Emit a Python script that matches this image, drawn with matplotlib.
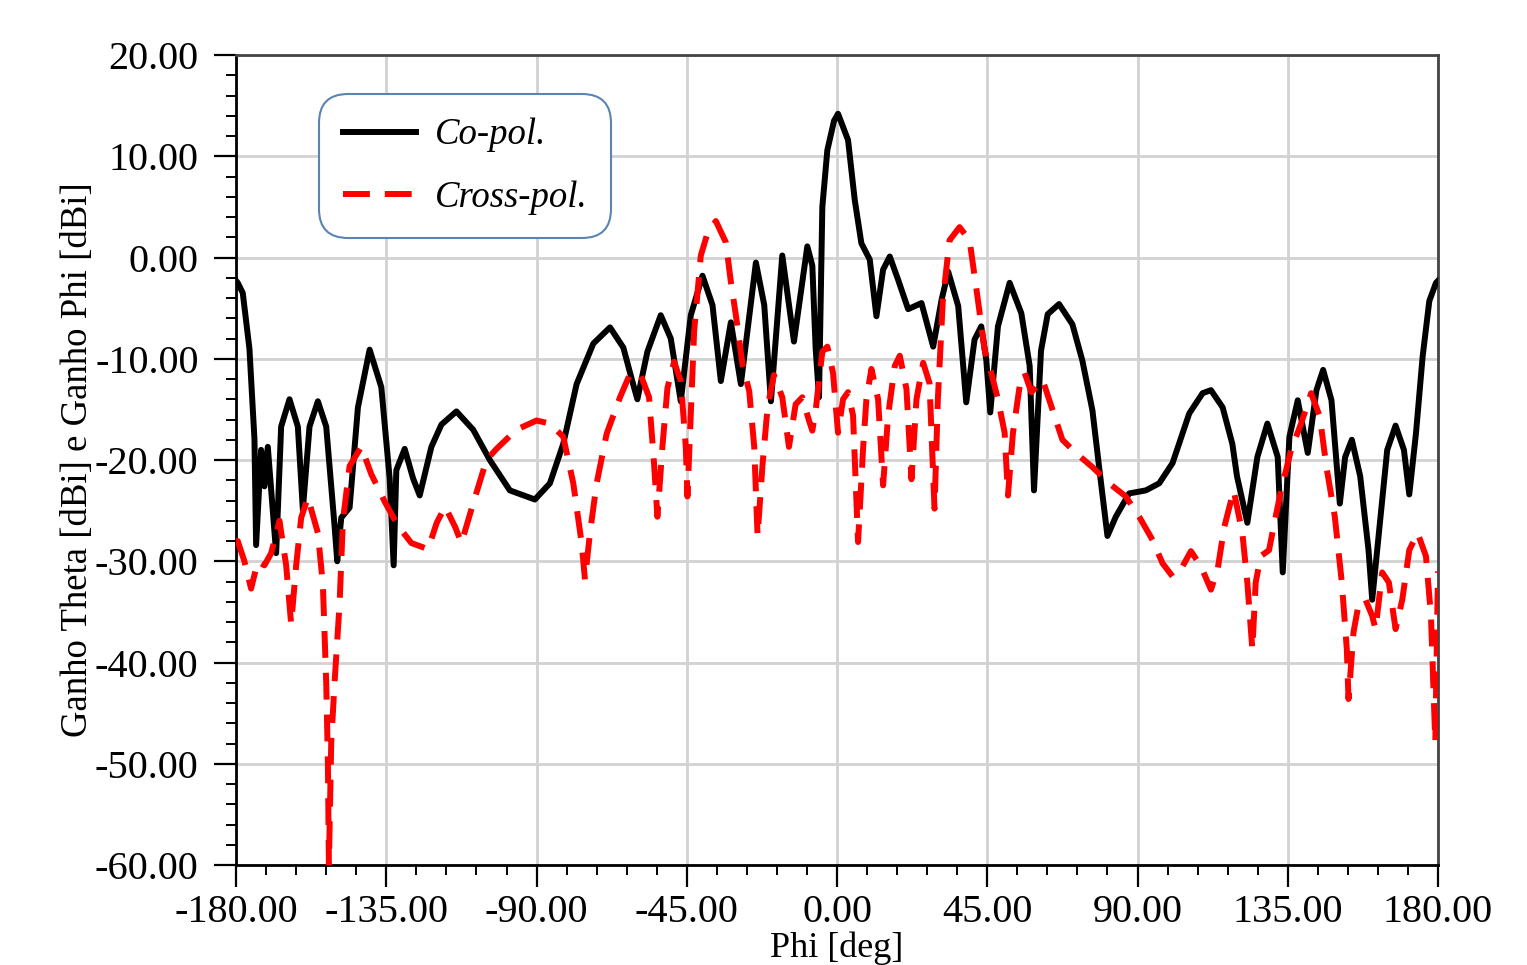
import matplotlib
matplotlib.use('Agg')
import matplotlib.pyplot as plt
from matplotlib.ticker import MultipleLocator, FormatStrFormatter

plt.rcParams['font.family'] = 'Liberation Serif'
plt.rcParams['axes.unicode_minus'] = False

# Co-pol (Ganho Theta)
co_phi = [-180, -179.5, -178, -176, -174.5, -174, -172.5, -171.5, -170.5, -168,
          -166.5, -164, -161.5, -160, -158, -155.5, -153, -150.5, -149.7, -148.5,
          -146, -143.5, -140, -136.5, -134, -132.8, -132, -129.5, -127, -125,
          -121.5, -118.5, -114, -109, -104, -98, -90.5, -86, -82, -78,
          -73, -68, -64, -61.5, -59.8, -56.8, -52.8, -49.8, -46.8, -43.8,
          -40.3, -37.3, -34.8, -31.8, -28.8, -24.3, -21.8, -19.8, -16.4, -12.9,
          -8.9, -7.4, -6.4, -5.4, -4.4, -2.9, -0.9, 0.3, 3.3, 5.3,
          7.3, 9.8, 11.8, 13.8, 15.8, 18.3, 21.3, 25.3, 28.8, 31.3,
          33.3, 36.3, 38.7, 41.2, 43.2, 44.7, 45.9, 48.2, 51.7, 55.2,
          57.7, 59, 61.1, 63.1, 66.5, 70.5, 73.5, 76.5, 78.5, 81,
          83.5, 87.5, 92.5, 96.5, 100.5, 105.5, 109.5, 112, 115.5, 118.4,
          119.8, 122.9, 125.9, 128.9, 132, 133.5, 135.5, 138, 141, 143.6,
          145.6, 148.1, 150.6, 152.2, 154.2, 156.7, 159.2, 160.3, 162.3, 164.8,
          167.3, 169.8, 171.4, 173.4, 175.4, 177.4, 179.4, 180]
co_gain = [-2.3, -2.5, -3.5, -9, -17.9, -28.4, -19, -22.6, -18.7, -29.2,
           -16.7, -14, -16.7, -24.9, -16.7, -14.2, -16.7, -26.5, -30, -25.7,
           -24.7, -14.8, -9.1, -12.8, -21.8, -30.4, -21, -18.9, -21.8, -23.5,
           -18.7, -16.5, -15.2, -17, -20, -23, -23.9, -22.3, -18.4, -12.5,
           -8.5, -6.9, -8.9, -12, -14, -9.3, -5.7, -8, -14.2, -5.7,
           -1.8, -4.7, -12.2, -6.4, -12.5, -0.5, -4.7, -14.2, 0.2, -8.3,
           1.1, -0.8, -9, -13.8, 5.0, 10.6, 13.5, 14.2, 11.6, 5.7,
           1.4, -0.2, -5.8, -1.2, 0.1, -2.2, -5.1, -4.5, -8.8, -4.2,
           -1.4, -4.8, -14.3, -8.1, -6.8, -10.1, -15.3, -6.8, -2.5, -5.5,
           -10.7, -23, -9.2, -5.6, -4.6, -6.6, -10.2, -15.1, -20.7, -27.5,
           -25.6, -23.3, -23, -22.3, -20.3, -15.4, -13.4, -13.1, -14.8, -18.4,
           -21.6, -26.2, -19.7, -16.4, -19.7, -31.1, -17.7, -14.1, -19.3, -13.1,
           -11.1, -14.1, -24.3, -19.7, -18, -21.6, -28.9, -33.8, -27.2, -19,
           -16.6, -19, -23.4, -17.4, -9.8, -4.3, -2.5, -2.3]

# Cross-pol (Ganho Phi)
cx_phi = [-180, -179.5, -177.5, -175.5, -173.5, -171.5, -169.5, -167, -165, -163.5,
          -162, -160.5, -158.5, -155.5, -154, -153, -152.5, -152.2, -151.5, -150.5,
          -149, -148, -146, -142.5, -139.5, -135.5, -131.5, -127.5, -122.5, -119.9,
          -117.4, -114.4, -112.5, -109, -105, -102, -96, -90, -86, -82,
          -79, -76.5, -75.5, -74, -72, -69, -65, -62, -58.8, -56.3,
          -54.8, -53.8, -52.3, -50.8, -48.8, -46.8, -45.3, -44.8, -43.8, -42.8,
          -40.8, -38.8, -36.3, -33.3, -31.8, -30.3, -28.3, -26.3, -24.8, -23.8,
          -22.3, -20.8, -18.9, -16.4, -14.4, -12.4, -10.4, -8.4, -7.4, -6.4,
          -4.4, -2.9, -1.2, 0.3, 1.8, 3.3, 4.8, 6.3, 7.8, 8.8,
          10.3, 12.3, 13.8, 15.3, 17.3, 18.8, 20.8, 22.3, 23.8, 25.8,
          27.7, 29.2, 30.2, 31.7, 33.7, 36.7, 39.7, 42.2, 44.2, 46.2,
          48.2, 50.2, 51.2, 52.7, 54.7, 56.2, 58.2, 61.6, 64.6, 67.5,
          71.5, 76.5, 81.5, 86.5, 90.5, 94.5, 97.5, 100.5, 103.5, 106,
          109, 112, 114, 116, 118.8, 121.4, 122.9, 124.4, 125.4, 126.9,
          129.4, 131, 133, 136, 139, 142, 144.6, 146.6, 149.1, 151.2,
          152.7, 153.2, 154.7, 156.3, 158.3, 160.3, 161.3, 163.3, 165.3, 167.3,
          169.3, 171.4, 173.9, 176.4, 177.9, 178.6, 179.2, 180]
cx_gain = [-28, -28, -30, -32.7, -30, -30.4, -29.2, -26, -30.4, -36.2,
           -30.4, -25.7, -23.7, -27.2, -32.3, -42, -49.8, -60, -47.9, -42,
           -34.2, -26, -20.6, -18.7, -21.4, -24.1, -26.5, -28.2, -28.8, -26.2,
           -24.6, -26.6, -28.2, -24.3, -20, -18.9, -17, -16.1, -16.4, -17.7,
           -22.3, -28.2, -31.8, -27.2, -22.3, -17.4, -13.8, -11.5, -11.6, -13.8,
           -20.4, -25.6, -18.7, -12.9, -10.3, -12.2, -18.7, -23.6, -15.5, -7.3,
           0.2, 2.4, 3.6, 1.5, -2.4, -5.7, -10.6, -13.2, -18.7, -27.5,
           -20.4, -14.8, -11.6, -13.8, -18.7, -14.5, -13.8, -16.1, -17.1, -15.1,
           -9.3, -8.8, -11.4, -17.3, -14, -13.3, -15.6, -28.1, -18.9, -14,
           -11, -14, -22.5, -15.6, -10.7, -9.7, -13, -21.9, -14, -10.4,
           -12.4, -24.8, -14, -4.2, 1.7, 3.0, 1.7, -4.2, -9.1, -11.4,
           -14, -17.3, -23.5, -17.3, -12.7, -11.4, -13.3, -12.1, -15.1, -18,
           -19.3, -20.7, -22.3, -23.6, -25.6, -27.9, -30.2, -31.5, -30.5, -29,
           -30.5, -32.8, -30.8, -26.6, -23, -27.2, -32.1, -38.7, -32.1, -29.5,
           -28.9, -26.2, -23, -19, -16.4, -13.4, -15.7, -20.7, -25.6, -32.1,
           -38.7, -43.6, -37, -34.1, -33.8, -35.4, -36.7, -31.1, -32.1, -36.7,
           -33.8, -28.9, -27.2, -29.5, -35.4, -42, -47.9, -31]

x_ticks = [-180, -135, -90, -45, 0, 45, 90, 135, 180]
y_ticks = [20, 10, 0, -10, -20, -30, -40, -50, -60]

fig = plt.figure(figsize=(15.27, 9.65), dpi=100)
ax = fig.add_axes([0.1546, 0.1036, 0.7871, 0.8394])

ax.plot(co_phi, co_gain, color='black', lw=4.3, label='Co-pol.', zorder=3,
        solid_joinstyle='round')
ax.plot(cx_phi, cx_gain, color='#ff0000', lw=4.3, ls=(0, (4.5, 2.5)),
        label='Cross-pol.', zorder=4)

ax.set_xlim(-180, 180)
ax.set_ylim(-60, 20)
ax.set_xticks(x_ticks)
ax.set_yticks(y_ticks)
ax.xaxis.set_minor_locator(MultipleLocator(9))
ax.yaxis.set_minor_locator(MultipleLocator(2))
ax.xaxis.set_major_formatter(FormatStrFormatter('%.2f'))
ax.yaxis.set_major_formatter(FormatStrFormatter('%.2f'))
ax.tick_params(which='major', direction='out', length=16, width=1.6,
               labelsize=29, pad=5)
ax.tick_params(which='minor', direction='out', length=7, width=1.4)
ax.tick_params(axis='y', which='major', pad=11)

ax.grid(True, which='major', color='#d2d2d2', lw=2)
ax.set_axisbelow(True)
for side in ['left', 'bottom']:
    ax.spines[side].set_linewidth(2)
    ax.spines[side].set_color('black')
for side in ['top', 'right']:
    ax.spines[side].set_linewidth(2)
    ax.spines[side].set_color('#444444')

ax.set_xlabel('Phi [deg]', fontsize=26, labelpad=0)
ax.set_ylabel('Ganho Theta [dBi] e Ganho Phi [dBi]', fontsize=26.5, labelpad=0)

leg = ax.legend(loc='upper left', bbox_to_anchor=(0.0765, 0.9405),
                borderaxespad=0, fancybox=True, framealpha=1,
                prop={'family': 'Liberation Serif', 'style': 'italic', 'size': 26.5},
                handlelength=2.0, handletextpad=0.5, labelspacing=0.75,
                borderpad=0.4)
leg.get_frame().set_edgecolor('#5b84b1')
leg.get_frame().set_linewidth(1.5)
leg.get_frame().set_boxstyle('round,pad=0.25,rounding_size=0.8')

fig.savefig('out.png', dpi=100)
